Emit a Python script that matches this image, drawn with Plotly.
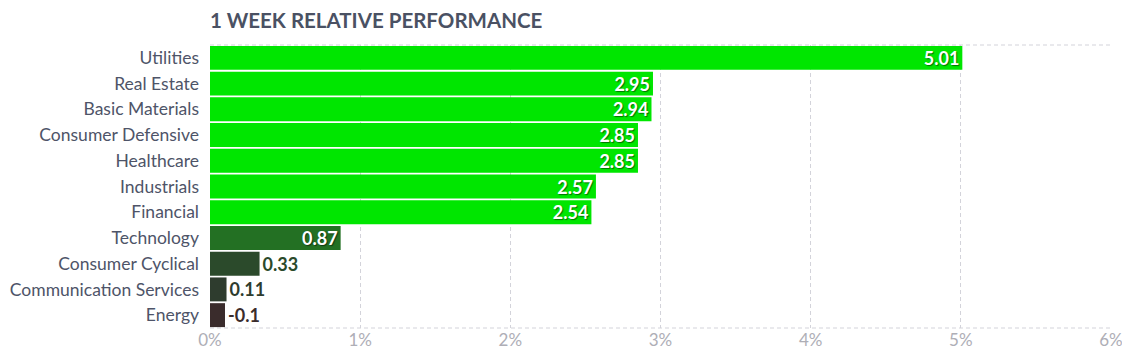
import plotly.graph_objects as go

categories = ["Utilities", "Real Estate", "Basic Materials", "Consumer Defensive", "Healthcare",
              "Industrials", "Financial", "Technology", "Consumer Cyclical",
              "Communication Services", "Energy"]
values = [5.01, 2.95, 2.94, 2.85, 2.85, 2.57, 2.54, 0.87, 0.33, 0.11, -0.1]
bar_colors = ["#00e600"] * 7 + ["#237023", "#2b4a2b", "#2e3c2e", "#3a2c2c"]
text_pos = ["inside"] * 8 + ["outside"] * 3
text_colors = ["#ffffff"] * 8 + ["#2b4a2b", "#2e3c2e", "#3a2c2c"]
x_ticks = [0, 1, 2, 3, 4, 5, 6]
x_tick_labels = ["0%", "1%", "2%", "3%", "4%", "5%", "6%"]

fig = go.Figure(go.Bar(
    y=categories,
    x=[abs(v) for v in values],
    orientation="h",
    marker=dict(color=bar_colors, line=dict(width=0)),
    text=[f"{v:g}" for v in values],
    textposition=text_pos,
    insidetextanchor="end",
    textfont=dict(family="Lato", size=18, color=text_colors, weight="bold"),
    insidetextfont=dict(family="Lato", size=18, color="#ffffff", weight="bold",
                        shadow="1px 1px 1px rgba(0,0,0,0.5)"),
    outsidetextfont=dict(family="Lato", size=18, color=text_colors, weight="bold"),
    cliponaxis=False,
))

fig.update_layout(
    width=1130, height=360,
    margin=dict(l=202, r=27, t=37, b=40, autoexpand=False),
    paper_bgcolor="white", plot_bgcolor="white",
    bargap=0.07,
    showlegend=False,
    uniformtext=dict(minsize=18, mode="show"),
    title=dict(text="1 WEEK RELATIVE PERFORMANCE", x=202 / 1130, xanchor="left",
               y=1 - 12.5 / 360, yanchor="middle",
               font=dict(family="Lato", size=20.5, color="#4a5163", weight="bold")),
    xaxis=dict(range=[0, 6], tickvals=x_ticks, ticktext=x_tick_labels,
               showgrid=True, gridcolor="#d3d3da", griddash="4px,3px", gridwidth=1,
               zeroline=False, showline=False, automargin=False,
               tickfont=dict(family="Lato", size=17, color="#aeaeb6"), ticks=""),
    yaxis=dict(autorange="reversed", showgrid=False, zeroline=False, showline=False,
               automargin=False,
               tickfont=dict(family="Lato", size=17.5, color="#4e5468"), ticks="",
               ticklabelstandoff=10),
    shapes=[
        dict(type="line", xref="paper", yref="paper", x0=0, x1=1, y0=1, y1=1,
             line=dict(color="#d3d3da", width=1, dash="4px,3px"), layer="below"),
        dict(type="line", xref="paper", yref="paper", x0=0, x1=1, y0=0, y1=0,
             line=dict(color="#d3d3da", width=1, dash="4px,3px"), layer="below"),
    ],
)

fig.write_html("out.html")
